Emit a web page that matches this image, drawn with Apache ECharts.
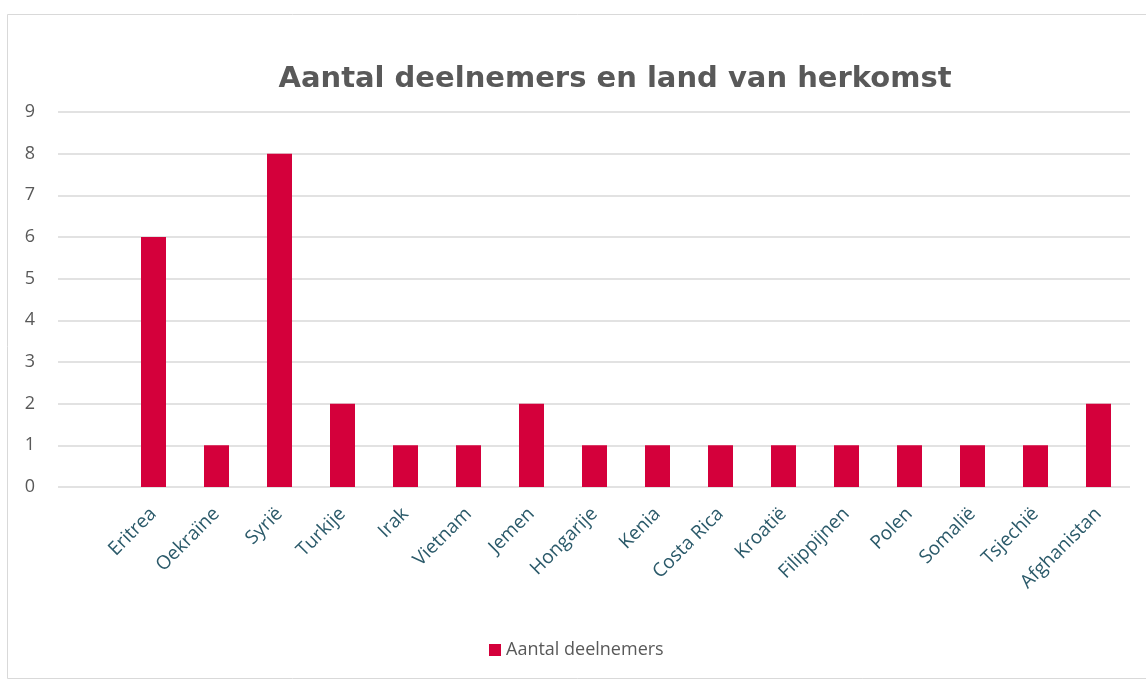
<!DOCTYPE html>
<html>
<head>
<meta charset="utf-8">
<script src="https://cdn.jsdelivr.net/npm/echarts@6/dist/echarts.min.js"></script>
<style>html,body{margin:0;padding:0;background:#fff}#c{width:1146px;height:681px}</style>
</head>
<body>
<div id="c"></div>
<script>
const categories = ['Eritrea','Oekraïne','Syrië','Turkije','Irak','Vietnam','Jemen','Hongarije','Kenia','Costa Rica','Kroatië','Filippijnen','Polen','Somalië','Tsjechië','Afghanistan'];
const values = [6,1,8,2,1,1,2,1,1,1,1,1,1,1,1,2];
const yMin = 0, yMax = 9, yStep = 1;
const titleText = 'Aantal deelnemers en land van herkomst';
const seriesName = 'Aantal deelnemers';

const chart = echarts.init(document.getElementById('c'), null, {renderer:'canvas'});
const barColor = '#d4003b';
const option = {
  backgroundColor: '#fff',
  animation: false,
  graphic: [{
    type: 'rect', shape: {x: 7.5, y: 14.5, width: 1150, height: 664},
    style: {fill: 'none', stroke: '#d9d9d9', lineWidth: 1}, silent: true
  }],
  title: {
    text: titleText, left: 610, textAlign: 'center', top: 60,
    textStyle: {fontFamily: 'DejaVu Sans', fontWeight: 'bold', fontSize: 29, color: '#595959'}
  },
  legend: {
    data: [seriesName], left: 484, top: 636, itemWidth: 12, itemHeight: 12, itemGap: 6,
    icon: 'rect',
    textStyle: {fontFamily: 'Open Sans', fontSize: 18, color: '#595959'}
  },
  grid: [
    {left: 58, right: 16, top: 112, bottom: 194},
    {left: 122, right: 16, top: 112, bottom: 194}
  ],
  xAxis: [
    {gridIndex: 0, type: 'value', show: false, min: 0, max: 1},
    {gridIndex: 1, type: 'category', data: categories,
     axisLine: {show: false}, axisTick: {show: false},
     axisLabel: {rotate: 45, interval: 0, margin: 24, fontFamily: 'Open Sans', fontSize: 19, color: '#2b5a6a'}}
  ],
  yAxis: [
    {gridIndex: 0, type: 'value', min: yMin, max: yMax, interval: yStep,
     axisLine: {show: false}, axisTick: {show: false},
     axisLabel: {margin: 23, fontFamily: 'Open Sans', fontSize: 18, color: '#595959'},
     splitLine: {lineStyle: {color: '#d9d9d9', width: 1.5}}},
    {gridIndex: 1, type: 'value', min: yMin, max: yMax, interval: yStep, show: false, splitLine: {show: false}}
  ],
  series: [{
    name: seriesName, type: 'bar', xAxisIndex: 1, yAxisIndex: 1, data: values,
    barWidth: 25, itemStyle: {color: barColor}
  }]
};
chart.setOption(option);
</script>
</body>
</html>
